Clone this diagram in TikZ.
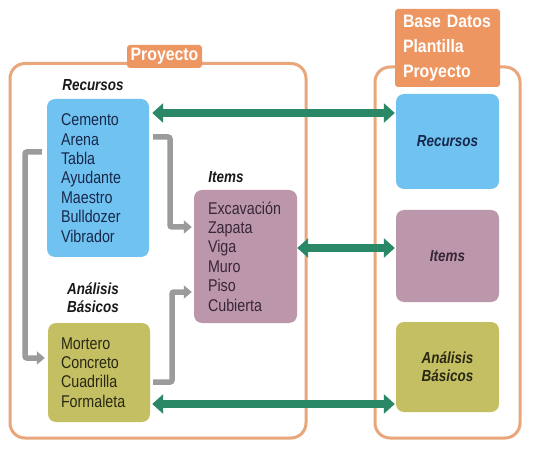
\documentclass[tikz,border=0pt]{standalone}
\usepackage{fontspec}
\setmainfont{Liberation Sans}[FakeStretch=0.84]
\newfontfamily\lblfont{Liberation Sans}[FakeStretch=0.88]
\usetikzlibrary{arrows.meta}
\definecolor{recblue}{RGB}{112,194,240}
\definecolor{itemmauve}{RGB}{188,151,171}
\definecolor{anolive}{RGB}{197,191,99}
\definecolor{frameor}{RGB}{232,166,122}
\definecolor{labelor}{RGB}{238,150,98}
\definecolor{arrgreen}{RGB}{42,136,102}
\definecolor{arrgray}{RGB}{155,155,155}
\definecolor{txtnavy}{RGB}{24,40,75}
\definecolor{txtmauve}{RGB}{55,38,55}
\definecolor{txtolive}{RGB}{40,40,20}
\begin{document}
\begin{tikzpicture}[x=1pt,y=-1pt,
  box/.style={rectangle, rounded corners=8pt, inner xsep=14pt, inner ysep=0pt, align=left,
    font=\fontsize{17}{19.4}\selectfont},
  rbox/.style={rectangle, rounded corners=8pt, minimum width=103pt, align=center,
    font=\fontsize{16}{18}\selectfont\bfseries\itshape},
  lbl/.style={font=\fontsize{16}{18}\selectfont\bfseries\itshape, text=black!90, align=center},
  frame/.style={draw=frameor, line width=3pt, rounded corners=15pt},
  tagbox/.style={rectangle, fill=labelor, rounded corners=3pt, text=white,
    font=\lblfont\fontsize{18}{25}\selectfont\bfseries},
  greenarrow/.style={draw=arrgreen, line width=7.5pt, {Triangle[width=19pt,length=11pt]}-{Triangle[width=19pt,length=11pt]}},
  grayarrow/.style={draw=arrgray, line width=5.5pt, rounded corners=2pt, -{Triangle[width=13pt,length=8pt]}}
]
\useasboundingbox[fill=white] (0,0) rectangle (535,454);

% frames
\draw[frame] (10,63.5) rectangle (306,438);
\draw[frame] (375,67) rectangle (520,438);

% tags
\node[tagbox, minimum width=75pt, minimum height=23pt, inner sep=0pt] (tagP) at (164.5,56.5) {Proyecto};
\node[tagbox, minimum width=105pt, minimum height=78pt, inner xsep=8pt, inner ysep=0pt,
  text width=89pt, align=left] (tagB) at (447.5,48) {Base Datos\\Plantilla\\Proyecto};

% left boxes
\node[box, fill=recblue, text=txtnavy, minimum width=102pt, minimum height=158pt, text width=74pt]
  (recL) at (98,178) {Cemento\\Arena\\Tabla\\Ayudante\\Maestro\\Bulldozer\\Vibrador};
\node[box, fill=itemmauve, text=txtmauve, minimum width=103pt, minimum height=133pt, text width=75pt]
  (itemsL) at (245.5,256.5) {Excavación\\Zapata\\Viga\\Muro\\Piso\\Cubierta};
\node[box, fill=anolive, text=txtolive, inner xsep=13pt, minimum width=102pt, minimum height=99pt, text width=76pt]
  (anL) at (99,372.5) {Mortero\\Concreto\\Cuadrilla\\Formaleta};

% left labels
\node[lbl] (lblRec) at (93,85) {Recursos};
\node[lbl] (lblItems) at (226,177) {Items};
\node[lbl] (lblAn) at (93,298) {Análisis\\Básicos};

% right boxes
\node[rbox, fill=recblue, text=txtnavy, minimum height=95pt] (recR) at (447.5,141.5) {Recursos};
\node[rbox, fill=itemmauve, text=txtmauve, minimum height=92pt] (itemsR) at (447.5,256) {Items};
\node[rbox, fill=anolive, text=txtolive, minimum height=90pt] (anR) at (447.5,367) {Análisis\\Básicos};

% green arrows
\draw[greenarrow, shorten <=3pt, shorten >=1pt] (recL.east |- 0,113) -- (recR.west |- 0,113);
\draw[greenarrow, shorten <=0pt, shorten >=1pt] (itemsL.east |- 0,248) -- (itemsR.west |- 0,248);
\draw[greenarrow, shorten <=2pt, shorten >=1pt] (anL.east |- 0,404) -- (anR.west |- 0,404);

% gray arrows
\draw[grayarrow, shorten <=4pt, shorten >=2pt] (recL.east |- 0,137) -| (170,227) -- (itemsL.west |- 0,227);
\draw[grayarrow, shorten <=5pt, shorten >=3pt] (recL.west |- 0,152) -| (25,358) -- (anL.west |- 0,358);
\draw[grayarrow, shorten <=3pt, shorten >=2pt] (anL.east |- 0,382) -| (172,292) -- (itemsL.west |- 0,292);
\end{tikzpicture}
\end{document}
